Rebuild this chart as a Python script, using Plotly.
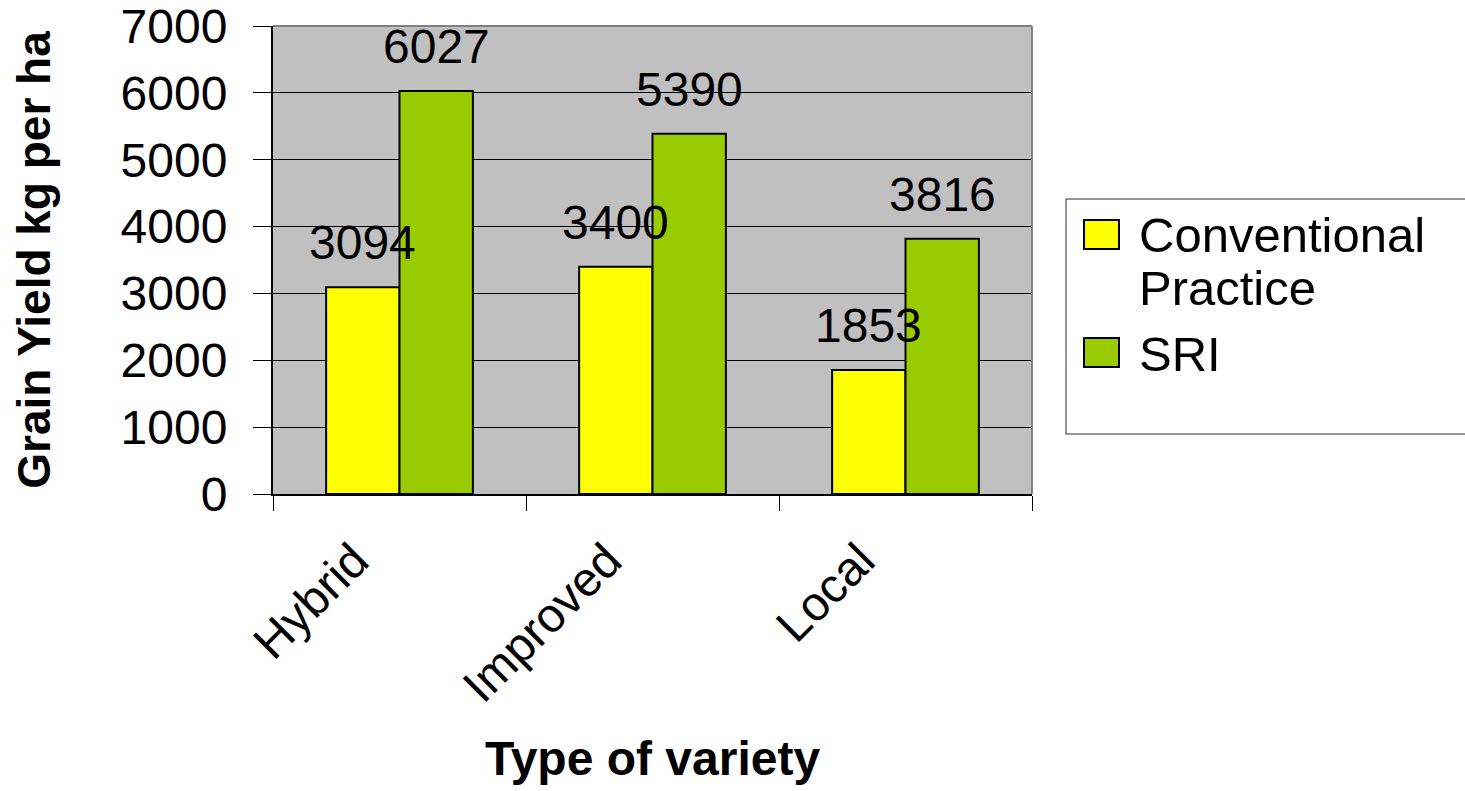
import plotly.graph_objects as go

# Grain yield by variety type under two cultivation practices
categories = ["Hybrid", "Improved", "Local"]
series_names = ["Conventional Practice", "SRI"]
legend_lines = [["Conventional", "Practice"], ["SRI"]]
conventional = [3094, 3400, 1853]
sri = [6027, 5390, 3816]
y_ticks = [0, 1000, 2000, 3000, 4000, 5000, 6000, 7000]

colors = ["#FFFF00", "#99CC00"]
FONT = "Arial, Liberation Sans, sans-serif"
BARGAP = 0.42

fig = go.Figure()
for name, vals, col in zip(series_names, [conventional, sri], colors):
    fig.add_trace(go.Bar(
        x=categories, y=vals, name=name,
        marker=dict(color=col, line=dict(color="#000000", width=2)),
        showlegend=False,
    ))

# value labels above each bar
half = (1 - BARGAP) / 4
annotations = []
for s, vals in enumerate([conventional, sri]):
    off = -half if s == 0 else half
    for i, v in enumerate(vals):
        annotations.append(dict(
            x=i + off, y=v, xref="x", yref="y", text=str(v),
            showarrow=False, yanchor="bottom", xanchor="center",
            yshift=16, font=dict(family=FONT, size=48, color="#000000"),
        ))

# custom legend (px -> paper coords of the plot area)
L, R, T, B = 273, 1032, 26, 494
def px(xp):
    return (xp - L) / (R - L)
def py(yp):
    return (B - yp) / (B - T)

shapes = [
    # plot area frame (top/right in gray)
    dict(type="line", xref="paper", yref="paper", x0=0, x1=1, y0=1, y1=1,
         line=dict(color="#808080", width=2)),
    dict(type="line", xref="paper", yref="paper", x0=1, x1=1, y0=0, y1=1,
         line=dict(color="#808080", width=2)),
    # legend box
    dict(type="rect", xref="paper", yref="paper",
         x0=px(1066), x1=px(1466), y0=py(434), y1=py(199),
         line=dict(color="#303030", width=1), fillcolor="#FFFFFF"),
]
square_tops = [220, 338]
text_mids = [[235, 288], [354]]
for col, top, lines, mids in zip(colors, square_tops, legend_lines, text_mids):
    shapes.append(dict(type="rect", xref="paper", yref="paper",
                       x0=px(1084), x1=px(1119), y0=py(top + 29), y1=py(top),
                       line=dict(color="#000000", width=2), fillcolor=col))
    for line, m in zip(lines, mids):
        annotations.append(dict(
            x=px(1137), y=py(m), xref="paper", yref="paper", text=line,
            showarrow=False, xanchor="left", yanchor="middle",
            font=dict(family=FONT, size=49, color="#000000"),
        ))

fig.update_layout(
    width=1465, height=791,
    margin=dict(l=273, r=433, t=26, b=297),
    paper_bgcolor="#FFFFFF", plot_bgcolor="#C0C0C0",
    barmode="group", bargap=BARGAP, bargroupgap=0,
    font=dict(family=FONT, color="#000000"),
    shapes=shapes, annotations=annotations,
    xaxis=dict(
        type="category", tickangle=-45, tickson="boundaries",
        ticks="outside", ticklen=15, tickcolor="#000000", tickwidth=1,
        showline=True, linecolor="#000000", linewidth=2,
        showgrid=False, automargin=False,
        ticklabelshift=-45, ticklabelstandoff=17,
        tickfont=dict(family=FONT, size=48, color="#000000"),
        title=dict(text="<b>Type of variety</b>", standoff=30,
                   font=dict(family=FONT, size=48, color="#000000")),
    ),
    yaxis=dict(
        range=[0, 7000], tickvals=y_ticks,
        ticks="outside", ticklen=18, tickcolor="#000000", tickwidth=1,
        showline=True, linecolor="#000000", linewidth=2,
        showgrid=True, gridcolor="#000000", gridwidth=1,
        zeroline=False, automargin=False,
        ticklabelstandoff=16, ticklabeloverflow="allow",
        tickfont=dict(family=FONT, size=48, color="#000000"),
        title=dict(text="<b>Grain Yield kg per ha</b>", standoff=56,
                   font=dict(family=FONT, size=46, color="#000000")),
    ),
)

fig.write_html("out.html")
